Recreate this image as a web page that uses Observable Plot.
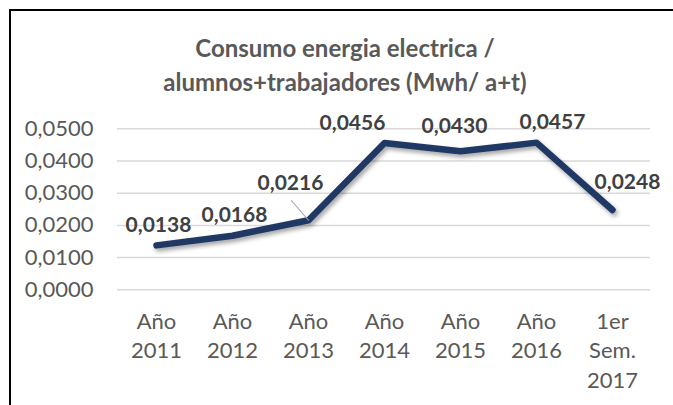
<!DOCTYPE html>
<html>
<head>
<meta charset="utf-8">
<script src="https://cdn.jsdelivr.net/npm/d3@7"></script>
<script src="https://cdn.jsdelivr.net/npm/@observablehq/plot@0.6"></script>
<style>
  html, body { margin: 0; padding: 0; background: #fff; overflow: hidden; }
  #wrap { position: relative; width: 673px; height: 405px; overflow: hidden; }
  #border { position: absolute; left: 9px; top: 9px; width: 700px; height: 500px;
            border-left: 2px solid #000; border-top: 2px solid #000; box-sizing: border-box; }
  #title { position: relative; margin-left: 17px; width: 656px; height: 100px; box-sizing: border-box;
           padding-top: 31px; text-align: center; font-family: Lato, sans-serif; font-weight: bold;
           font-size: 24px; line-height: 34px; color: #595959; }
  #chart { position: relative; }
</style>
</head>
<body>
<div id="wrap">
  <div id="border"></div>
  <div id="title">Consumo energia electrica /<br>alumnos+trabajadores (Mwh/ a+t)</div>
  <div id="chart"></div>
</div>
<script>
const categories = ["Año 2011", "Año 2012", "Año 2013", "Año 2014", "Año 2015", "Año 2016", "1er Sem. 2017"];
const tickLabels = ["Año\n2011", "Año\n2012", "Año\n2013", "Año\n2014", "Año\n2015", "Año\n2016", "1er\nSem.\n2017"];
const values = [0.0138, 0.0168, 0.0216, 0.0456, 0.0430, 0.0457, 0.0248];
const valueLabels = ["0,0138", "0,0168", "0,0216", "0,0456", "0,0430", "0,0457", "0,0248"];
const yTicks = [0, 0.01, 0.02, 0.03, 0.04, 0.05];

const data = categories.map((c, i) => ({cat: c, value: values[i], label: valueLabels[i]}));

// manual label placement offsets (px), as in the original
const labelOffsets = [[2, -20], [2, -20], [-18, -37], [-32, -20], [-6, -25], [16, -20], [15, -28]];
const fmt = d => d.toFixed(4).replace(".", ",");

const plot = Plot.plot({
  width: 673,
  height: 305,
  marginLeft: 117,
  marginRight: 23,
  marginTop: 28.3,
  marginBottom: 115.7,
  style: {fontFamily: "Lato, sans-serif", background: "transparent", overflow: "visible"},
  x: {type: "point", domain: categories, padding: 0.5, label: null},
  y: {domain: [0, 0.05], label: null},
  marks: [
    Plot.ruleY(yTicks, {stroke: "#d9d9d9", strokeWidth: 1.5}),
    Plot.axisY({ticks: yTicks, tickFormat: fmt, tickSize: 0, tickPadding: 24, fontSize: 22, color: "#595959", label: null}),
    Plot.axisX({tickSize: 0, tickPadding: 18, fontSize: 22, lineHeight: 1.34, color: "#595959", label: null,
                tickFormat: d => tickLabels[categories.indexOf(d)]}),
    Plot.line(data, {x: "cat", y: "value", stroke: "#203864", strokeWidth: 6.5,
                     strokeLinejoin: "round", strokeLinecap: "round"}),
    Plot.vector([data[2]], {x: "cat", y: "value", length: 26, rotate: -41, anchor: "start",
                 stroke: "#a6a6a6", strokeWidth: 1,
                 shape: {draw(context, l) { context.moveTo(0, 0); context.lineTo(0, -l); }}}),
    ...data.map((d, i) => Plot.text([d], {x: "cat", y: "value", text: "label",
                 dx: labelOffsets[i][0], dy: labelOffsets[i][1],
                 fontSize: 21, fontWeight: "bold", fill: "#404040"}))
  ]
});

const lp = plot.querySelector('g[aria-label="line"] path');
if (lp) lp.style.filter = "drop-shadow(2px 3px 2px rgba(0,0,0,0.35))";
document.getElementById("chart").appendChild(plot);
</script>
</body>
</html>
